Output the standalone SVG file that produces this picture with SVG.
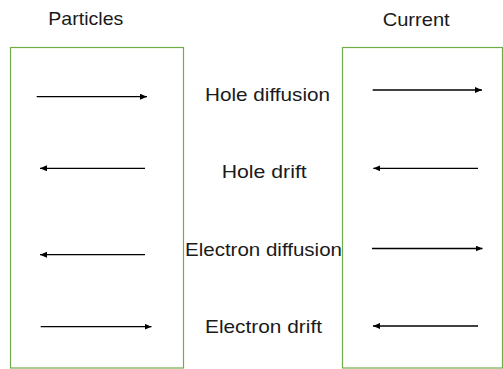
<svg xmlns="http://www.w3.org/2000/svg" width="503" height="369" viewBox="0 0 503 369">
  <style>
    .box { fill: #ffffff; stroke: #70AD47; stroke-width: 1.2; }
    .lbl { font-family: "Liberation Sans", Arial, sans-serif; font-size: 19px; fill: #1a1a1a; }
    .arr { stroke: #000000; stroke-width: 1.3; fill: none; marker-end: url(#head); }
  </style>
  <defs>
    <marker id="head" markerUnits="userSpaceOnUse" markerWidth="8" markerHeight="7" refX="7" refY="3" orient="auto">
      <path d="M0,0 L7,3 L0,6 z" fill="#000000"/>
    </marker>
  </defs>
  <rect width="503" height="369" fill="#ffffff"/>
  <g id="particles-box">
    <rect class="box" x="10.5" y="47.5" width="173" height="320.5"/>
    <text class="lbl" x="48.3" y="25" textLength="75" lengthAdjust="spacingAndGlyphs">Particles</text>
  </g>
  <g id="current-box">
    <rect class="box" x="342.5" y="47.5" width="160" height="320.5"/>
    <text class="lbl" x="382.7" y="26" textLength="67" lengthAdjust="spacingAndGlyphs">Current</text>
  </g>
  <g id="hole-diffusion">
    <text class="lbl" x="205" y="100.7" textLength="125" lengthAdjust="spacingAndGlyphs">Hole diffusion</text>
  </g>
  <g id="hole-drift">
    <text class="lbl" x="221.7" y="178.3" textLength="85" lengthAdjust="spacingAndGlyphs">Hole drift</text>
  </g>
  <g id="electron-diffusion">
    <text class="lbl" x="185" y="255.7" textLength="157" lengthAdjust="spacingAndGlyphs">Electron diffusion</text>
  </g>
  <g id="electron-drift">
    <text class="lbl" x="205" y="333.3" textLength="117" lengthAdjust="spacingAndGlyphs">Electron drift</text>
  </g>
  <g id="connectors">
    <line class="arr" x1="36.7" y1="96.7" x2="147" y2="96.7"/>
    <line class="arr" x1="145" y1="168.3" x2="40" y2="168.3"/>
    <line class="arr" x1="145" y1="254.7" x2="40" y2="254.7"/>
    <line class="arr" x1="40.7" y1="326.7" x2="151.5" y2="326.7"/>
    <line class="arr" x1="372.7" y1="90" x2="482" y2="90"/>
    <line class="arr" x1="478" y1="168.3" x2="373.3" y2="168.3"/>
    <line class="arr" x1="372" y1="248.5" x2="482.5" y2="248.5"/>
    <line class="arr" x1="478" y1="326" x2="373" y2="326"/>
  </g>
</svg>
